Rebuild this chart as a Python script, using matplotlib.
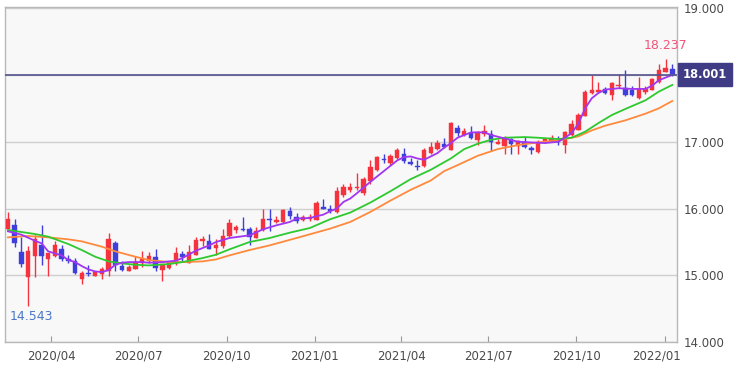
import matplotlib
matplotlib.use("Agg")
import matplotlib.pyplot as plt
import matplotlib.dates as mdates
import numpy as np
import pandas as pd

# ---------------- data (weekly candles) ----------------
start_date = "2020-02-16"

opens = [15.70, 15.76, 15.35, 14.97, 15.29, 15.46, 15.24, 15.29, 15.39, 15.24,
         15.22, 14.95, 15.04, 14.99, 15.02, 15.06, 15.49, 15.14, 15.07, 15.10,
         15.18, 15.21, 15.28, 15.08, 15.115, 15.19, 15.32, 15.19, 15.31, 15.52,
         15.51, 15.41, 15.44, 15.59, 15.68, 15.70, 15.70, 15.56, 15.68, 15.84,
         15.80, 15.80, 15.96, 15.88, 15.83, 15.85, 15.835, 16.02, 15.99, 15.945,
         16.20, 16.28, 16.31, 16.23, 16.41, 16.58, 16.74, 16.68, 16.76, 16.81,
         16.69, 16.64, 16.63, 16.83, 16.89, 16.96, 16.88, 17.21, 17.10, 17.13,
         17.03, 17.115, 17.12, 16.97, 16.94, 17.04, 16.94, 16.99, 16.91, 16.84,
         16.99, 17.00, 17.03, 16.955, 17.105, 17.18, 17.39, 17.73, 17.74, 17.79,
         17.70, 17.83, 17.80, 17.77, 17.65, 17.75, 17.78, 17.90, 18.05, 18.085]
highs = [15.955, 15.84, 15.57, 15.44, 15.61, 15.76, 15.34, 15.51, 15.45, 15.31,
         15.26, 15.06, 15.16, 15.07, 15.12, 15.64, 15.51, 15.21, 15.15, 15.29,
         15.36, 15.35, 15.39, 15.17, 15.22, 15.42, 15.37, 15.45, 15.58, 15.59,
         15.62, 15.54, 15.69, 15.84, 15.75, 15.88, 15.73, 15.72, 15.99, 15.99,
         15.89, 16.00, 16.02, 15.94, 15.91, 15.92, 16.12, 16.14, 16.05, 16.33,
         16.37, 16.39, 16.53, 16.48, 16.73, 16.79, 16.82, 16.82, 16.91, 16.90,
         16.75, 16.73, 16.90, 16.99, 17.02, 17.05, 17.29, 17.25, 17.20, 17.23,
         17.155, 17.25, 17.18, 17.04, 17.08, 17.055, 17.03, 17.07, 16.93, 17.02,
         17.06, 17.10, 17.09, 17.155, 17.32, 17.43, 17.78, 18.00, 17.89, 17.82,
         17.90, 18.02, 18.07, 17.84, 17.965, 17.83, 17.96, 18.165, 18.237, 18.16]
lows = [15.69, 15.42, 15.13, 14.543, 14.97, 15.16, 14.99, 15.28, 15.21, 15.19,
        15.02, 14.87, 14.99, 14.99, 14.94, 14.99, 15.06, 15.06, 15.06, 15.09,
        15.13, 15.18, 15.06, 14.915, 15.10, 15.16, 15.21, 15.19, 15.31, 15.44,
        15.39, 15.30, 15.41, 15.58, 15.64, 15.66, 15.45, 15.56, 15.66, 15.66,
        15.79, 15.79, 15.84, 15.78, 15.81, 15.82, 15.83, 15.995, 15.93, 15.93,
        16.18, 16.25, 16.28, 16.20, 16.37, 16.56, 16.68, 16.65, 16.74, 16.68,
        16.65, 16.57, 16.62, 16.82, 16.87, 16.90, 16.87, 17.09, 17.08, 17.04,
        16.955, 17.08, 16.86, 16.96, 16.81, 16.81, 16.81, 16.905, 16.82, 16.83,
        16.98, 16.99, 16.955, 16.83, 17.09, 17.17, 17.38, 17.72, 17.73, 17.72,
        17.63, 17.80, 17.68, 17.68, 17.64, 17.72, 17.77, 17.885, 18.04, 17.99]
closes = [15.85, 15.48, 15.17, 15.37, 15.55, 15.29, 15.33, 15.45, 15.25, 15.21,
          15.04, 15.03, 15.02, 15.05, 15.10, 15.55, 15.15, 15.08, 15.12, 15.20,
          15.24, 15.29, 15.11, 15.165, 15.20, 15.34, 15.27, 15.355, 15.53, 15.54,
          15.40, 15.46, 15.59, 15.79, 15.73, 15.68, 15.58, 15.66, 15.85, 15.83,
          15.83, 15.985, 15.895, 15.81, 15.88, 15.87, 16.085, 16.00, 15.96, 16.26,
          16.32, 16.33, 16.32, 16.44, 16.62, 16.77, 16.72, 16.78, 16.87, 16.71,
          16.67, 16.62, 16.88, 16.92, 16.98, 16.92, 17.28, 17.13, 17.16, 17.055,
          17.145, 17.155, 17.00, 17.00, 17.06, 16.96, 17.015, 16.92, 16.88, 17.00,
          17.04, 17.055, 17.00, 17.14, 17.265, 17.40, 17.75, 17.78, 17.78, 17.73,
          17.875, 17.85, 17.70, 17.70, 17.79, 17.79, 17.94, 18.075, 18.10, 18.001]

# moving averages (week index -> value)
ma_short_idx = [0, 2, 4, 5, 6, 7, 8, 9, 10, 11, 12, 13, 14, 15, 16, 17, 18, 20, 21, 23,
                25, 26, 28, 30, 31, 33, 36, 38, 40, 42, 43, 45, 47, 48, 49, 50, 51, 52, 54, 56,
                58, 59, 60, 61, 62, 64, 65, 66, 67, 68, 69, 71, 72, 74, 76, 78, 80, 82, 83, 84,
                85, 86, 87, 88, 89, 91, 93, 95, 96, 97, 98, 99]
ma_short_val = [15.66, 15.61, 15.52, 15.48, 15.36, 15.33, 15.30, 15.23, 15.20, 15.14,
                15.09, 15.06, 15.05, 15.08, 15.16, 15.19, 15.20, 15.20, 15.19, 15.20,
                15.22, 15.26, 15.37, 15.45, 15.50, 15.56, 15.60, 15.69, 15.75, 15.80,
                15.85, 15.86, 15.91, 15.96, 16.00, 16.10, 16.15, 16.23, 16.40, 16.56,
                16.72, 16.77, 16.78, 16.75, 16.73, 16.83, 16.91, 16.98, 17.06, 17.10,
                17.14, 17.14, 17.10, 17.05, 17.00, 16.99, 16.98, 17.00, 17.06, 17.13,
                17.27, 17.50, 17.65, 17.73, 17.78, 17.80, 17.79, 17.79, 17.84, 17.92,
                17.96, 18.00]
ma_mid_idx = [0, 2, 4, 6, 9, 11, 13, 15, 17, 19, 21, 24, 26, 29, 31, 33, 36, 39, 42, 45,
              48, 51, 54, 57, 60, 63, 66, 68, 70, 72, 74, 77, 79, 82, 84, 86, 88, 90, 92, 95,
              97, 99]
ma_mid_val = [15.68, 15.65, 15.62, 15.58, 15.47, 15.38, 15.28, 15.21, 15.18, 15.16,
              15.15, 15.17, 15.20, 15.26, 15.31, 15.39, 15.50, 15.56, 15.64, 15.71,
              15.84, 15.94, 16.09, 16.26, 16.44, 16.58, 16.75, 16.89, 16.97, 17.03,
              17.06, 17.07, 17.06, 17.04, 17.06, 17.15, 17.28, 17.40, 17.49, 17.62,
              17.75, 17.85]
ma_long_idx = [0, 3, 6, 9, 11, 14, 16, 19, 21, 24, 26, 29, 31, 33, 36, 39, 43, 48, 51, 54,
               57, 60, 63, 65, 67, 70, 73, 76, 79, 82, 85, 87, 89, 92, 95, 97, 99]
ma_long_val = [15.57, 15.59, 15.57, 15.54, 15.51, 15.43, 15.36, 15.28, 15.23, 15.20,
               15.20, 15.21, 15.24, 15.30, 15.38, 15.45, 15.56, 15.70, 15.80, 15.95,
               16.12, 16.28, 16.42, 16.56, 16.65, 16.79, 16.89, 16.95, 16.99, 17.02,
               17.08, 17.17, 17.24, 17.32, 17.42, 17.50, 17.61]

tick_dates = ["2020-04-01", "2020-07-01", "2020-10-01", "2021-01-01",
              "2021-04-01", "2021-07-01", "2021-10-01", "2022-01-01"]
tick_labels = ["2020/04", "2020/07", "2020/10", "2021/01",
               "2021/04", "2021/07", "2021/10", "2022/01"]
y_ticks = [14, 15, 16, 17, 18, 19]

# ---------------- drawing ----------------
UP = "#f5333f"
DOWN = "#3f3fdc"
TXT = "#4a4a4a"

dates = pd.date_range(start_date, periods=len(closes), freq="7D")
x = mdates.date2num(dates.to_pydatetime())
o = np.array(opens); h = np.array(highs); l = np.array(lows); c = np.array(closes)
up = c >= o
cols = np.where(up, UP, DOWN)

fig = plt.figure(figsize=(7.4, 3.7), dpi=100)
ax = fig.add_axes([5 / 740, 1 - 342.3 / 370, 672 / 740, 335.6 / 370])
ax.set_facecolor("#f8f8f8")

for yv in y_ticks:
    ax.axhline(yv, color="#cfcfcf", lw=1, zorder=1)

ax.vlines(x, l, h, colors=cols, lw=1, zorder=3)
body_lo = np.minimum(o, c)
body_h = np.maximum(np.abs(c - o), 0.012)
ax.bar(x, body_h, bottom=body_lo, width=4.6, color=cols, edgecolor=cols, lw=0.3, zorder=4)

ax.plot(x[ma_long_idx], ma_long_val, color="#ff8a3d", lw=1.3, zorder=5)
ax.plot(x[ma_mid_idx], ma_mid_val, color="#2ec92e", lw=1.3, zorder=5)
ax.plot(x[ma_short_idx], ma_short_val, color="#a136f2", lw=1.3, zorder=6)

last = closes[-1]
ax.axhline(last, color="#54528f", lw=1.2, zorder=6)

ax.set_xlim(x[0] - 3.1, x[-1] + 4.9)
ax.set_ylim(14.0, 19.02)

# the 18.000 label sits under the current-price box, so leave it blank
ax.set_yticks(y_ticks)
ax.set_yticklabels(["" if abs(v - last) < 0.1 else "%.3f" % v for v in y_ticks])
ax.yaxis.tick_right()
ax.tick_params(axis="y", length=0, pad=5, labelsize=8.5, labelcolor=TXT)

ax.set_xticks(mdates.date2num(pd.to_datetime(tick_dates).to_pydatetime()))
ax.set_xticklabels(tick_labels)
ax.tick_params(axis="x", direction="in", length=4, color="#9a9a9a", pad=5,
               labelsize=8.5, labelcolor=TXT)
lab = ax.get_xticklabels()[-1]
lab.set_horizontalalignment("right")
lab.set_transform(lab.get_transform() + matplotlib.transforms.ScaledTranslation(
    12 / 72, 0, fig.dpi_scale_trans))

for s in ax.spines.values():
    s.set_color("#b8b8b8")
    s.set_linewidth(1)

# high / low labels
i_hi = int(np.argmax(h))
i_lo = int(np.argmin(l))
ax.text(x[i_hi], h[i_hi] + 0.2, "%.3f" % h[i_hi], color="#f0557a", fontsize=9,
        ha="center", va="center", zorder=7)
ax.text(x[i_lo] - 19, l[i_lo] - 0.16, "%.3f" % l[i_lo], color="#4a78c8", fontsize=9,
        ha="left", va="center", zorder=7)

# current price box
ax.annotate("%.3f" % last, xy=(1, last), xycoords=("axes fraction", "data"),
            xytext=(4.3, 0), textcoords="offset points", ha="left", va="center",
            color="white", fontsize=8.3, fontweight="bold", annotation_clip=False,
            bbox=dict(boxstyle="square,pad=0.42", fc="#3f3c85", ec="#3f3c85"),
            zorder=10)

fig.savefig("out.png", dpi=100, facecolor="white")
print("saved out.png")
